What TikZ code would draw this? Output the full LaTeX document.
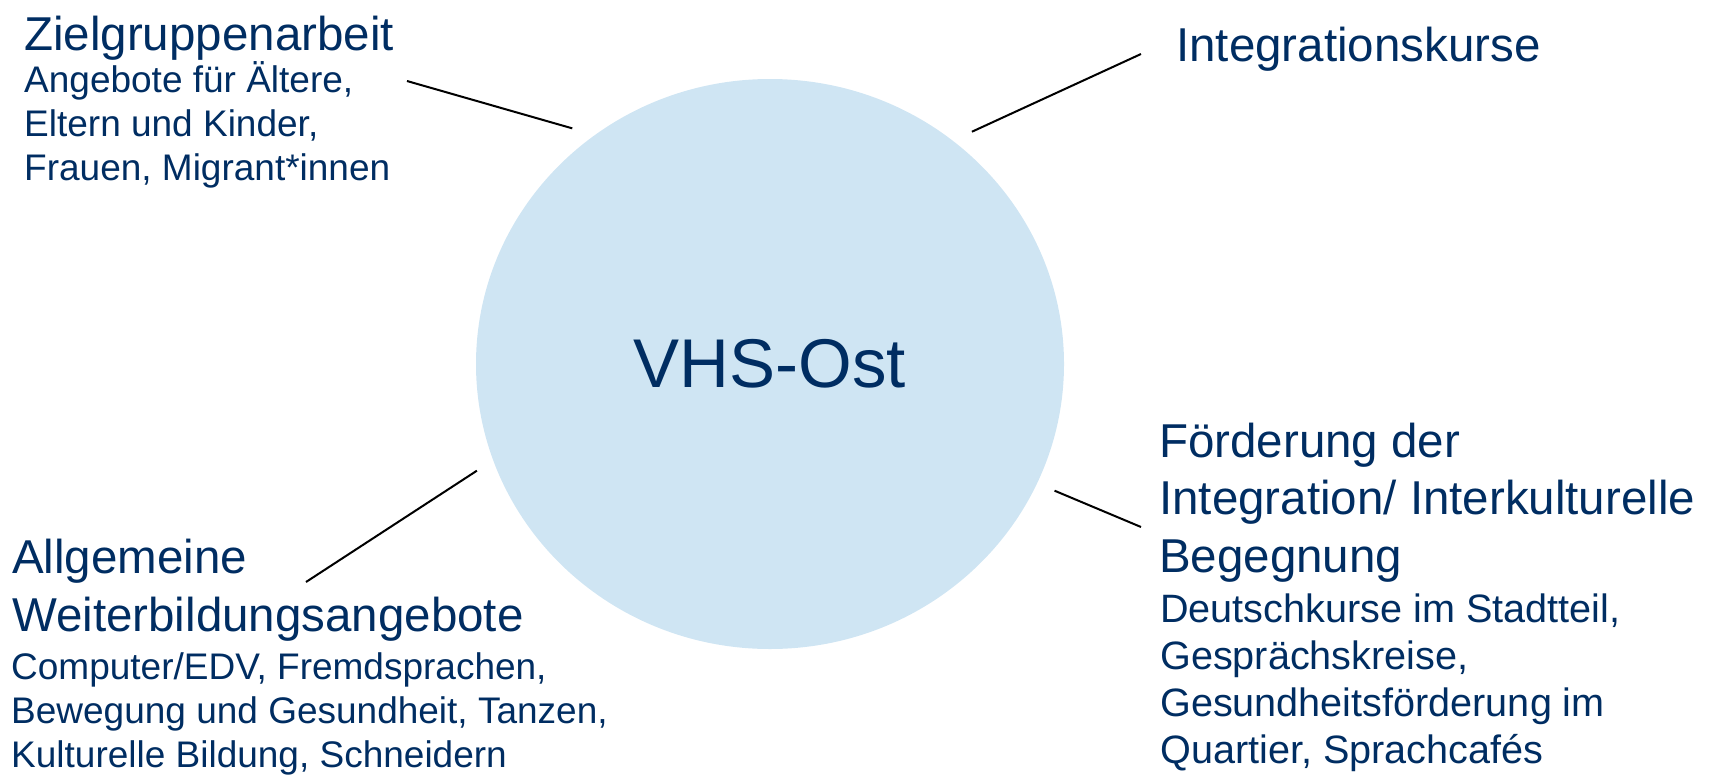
\documentclass[tikz,border=0pt]{standalone}
\usepackage{fontspec}
\setmainfont{Liberation Sans}
\usepackage{tikz}
\usetikzlibrary{shapes.geometric}

\definecolor{vhsnavy}{HTML}{002D62}
\definecolor{vhslight}{HTML}{CFE5F3}

\begin{document}
\begin{tikzpicture}[x=1pt, y=-1pt,
	head/.style={anchor=base west, inner sep=0, align=left, text=vhsnavy, font=\fontsize{47.5}{57.5}\selectfont},
	sub/.style={anchor=base west, inner sep=0, align=left, text=vhsnavy, font=\fontsize{37}{44}\selectfont},
	spoke/.style={line width=2pt}]

	    \useasboundingbox (0,0) rectangle (1720,779);

	    \node [ellipse, fill=vhslight, minimum width=588pt, minimum height=570pt, inner sep=0, outer sep=19pt,
	           text=vhsnavy, font=\fontsize{69}{80}\selectfont] (vhs) at (770,364) {VHS-Ost};

		%%%%%%%%%%%%%%%%%%%%%%%%%%%%%%%%%%%%%%%%%%%%%%%%%%%%%%%%%%%%%%%%%%%%%
		% multi-line nodes: base = baseline of the last line

	    \node [head] (ziel) at (24,50) {Zielgruppenarbeit};
	    \node [sub] (zielsub) at (24,180) {Angebote für Ältere,\\Eltern und Kinder,\\Frauen, Migrant*innen};

	    \node [head] (integ) at (1176,61) {Integrationskurse};

	    \node [head] (allg) at (12,631) {Allgemeine\\Weiterbildungsangebote};
	    \node [sub] (allgsub) at (11,767) {Computer/EDV, Fremdsprachen,\\Bewegung und Gesundheit, Tanzen,\\Kulturelle Bildung, Schneidern};

	    \node [head] (foerd) at (1159,572) {Förderung der\\Integration/ Interkulturelle\\Begegnung};
	    \node [sub, font=\fontsize{39.6}{47}\selectfont] (foerdsub) at (1160,763) {Deutschkurse im Stadtteil,\\Gesprächskreise,\\Gesundheitsförderung im\\Quartier, Sprachcafés};

		%%%%%%%%%%%%%%%%%%%%%%%%%%%%%%%%%%%%%%%%%%%%%%%%%%%%%%%%%%%%%%%%%%%%%

	    \coordinate (zielend) at (407,81);
	    \coordinate (integend) at (1141,54);
	    \coordinate (allgend) at (306,582);
	    \coordinate (foerdend) at (1141,527);

		\draw [spoke] (vhs.130.5) -- (zielend);
		\draw [spoke] (vhs.49.2) -- (integend);
		\draw [spoke] (vhs.200.1) -- (allgend);
		\draw [spoke] (vhs.336.7) -- (foerdend);

\end{tikzpicture}
\end{document}
